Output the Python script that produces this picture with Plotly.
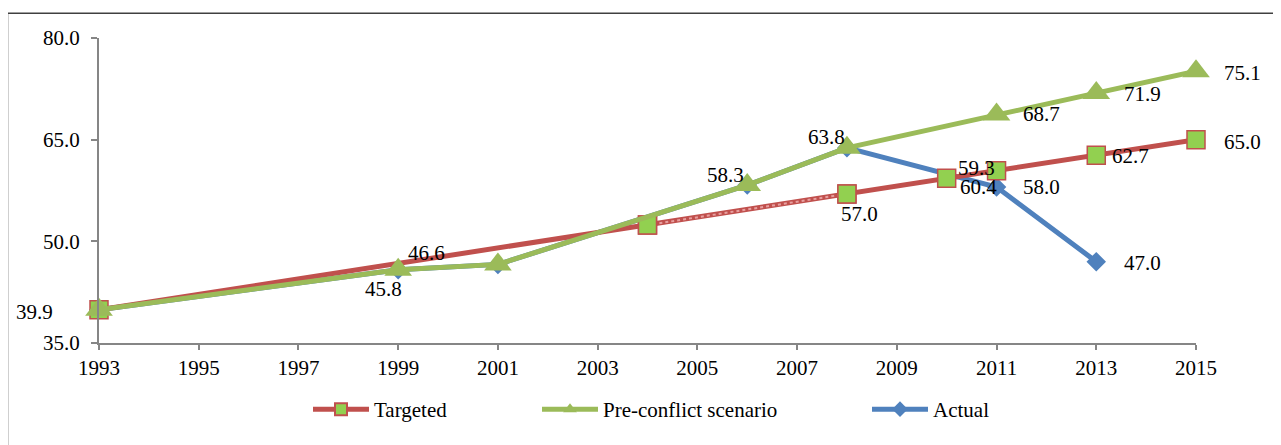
import plotly.graph_objects as go

# ---------------- data ----------------
targeted_years = [1993, 2004, 2008, 2010, 2011, 2013, 2015]
targeted_vals = [39.9, 52.4, 57.0, 59.3, 60.4, 62.7, 65.0]

preconf_years = [1993, 1999, 2001, 2006, 2008, 2011, 2013, 2015]
preconf_vals = [39.9, 45.8, 46.6, 58.3, 63.8, 68.7, 71.9, 75.1]

actual_years = [1993, 1999, 2001, 2006, 2008, 2011, 2013]
actual_vals = [39.9, 45.8, 46.6, 58.3, 63.8, 58.0, 47.0]

x_ticks = [1993, 1995, 1997, 1999, 2001, 2003, 2005, 2007, 2009, 2011, 2013, 2015]
y_ticks = [35.0, 50.0, 65.0, 80.0]

RED = "#C0504D"
GREEN = "#9BBB59"
BLUE = "#4F81BD"
SQFILL = "#92D050"
FONT = "Liberation Serif"
FS = 21

fig = go.Figure()

# Actual (drawn first, below others)
fig.add_trace(go.Scatter(
    x=actual_years, y=actual_vals, name="Actual", mode="lines+markers",
    line=dict(color=BLUE, width=5),
    marker=dict(symbol="diamond", size=15, color=BLUE),
    cliponaxis=False, legend="legend3"))

# Targeted
fig.add_trace(go.Scatter(
    x=targeted_years, y=targeted_vals, name="Targeted", mode="lines+markers",
    line=dict(color=RED, width=5),
    marker=dict(symbol="square", size=18, color=SQFILL, line=dict(color=RED, width=1.5)),
    cliponaxis=False, legend="legend"))
# hatched-looking segment overlay (2004-2008)
fig.add_trace(go.Scatter(
    x=targeted_years[1:3], y=targeted_vals[1:3], mode="lines",
    line=dict(color="#E8A0A0", width=2, dash="dot"),
    showlegend=False, hoverinfo="skip", cliponaxis=False))
fig.add_trace(go.Scatter(
    x=targeted_years[1:3], y=targeted_vals[1:3], mode="markers",
    marker=dict(symbol="square", size=18, color=SQFILL, line=dict(color=RED, width=1.5)),
    showlegend=False, hoverinfo="skip", cliponaxis=False))

# Pre-conflict scenario (on top)
fig.add_trace(go.Scatter(
    x=preconf_years, y=preconf_vals, name="Pre-conflict scenario", mode="lines+markers",
    line=dict(color=GREEN, width=5),
    marker=dict(symbol="triangle-up", size=24, color=GREEN),
    cliponaxis=False, legend="legend2"))

# ---------------- data labels ----------------
def lookup(years, vals, yr):
    return vals[years.index(yr)]

labels = [
    # (years, vals, year, dx, dy)  dx right, dy down in pixels
    (targeted_years, targeted_vals, 1993, -65, 2),
    (actual_years, actual_vals, 2001, -71, -11),
    (preconf_years, preconf_vals, 1999, -15, 19),
    (preconf_years, preconf_vals, 2006, -22, -10),
    (preconf_years, preconf_vals, 2008, -20, -11),
    (targeted_years, targeted_vals, 2008, 13, 20),
    (targeted_years, targeted_vals, 2010, 30, -10),
    (targeted_years, targeted_vals, 2011, -18, 16),
    (actual_years, actual_vals, 2011, 45, 0),
    (actual_years, actual_vals, 2013, 46, 1),
    (preconf_years, preconf_vals, 2011, 45, -1),
    (preconf_years, preconf_vals, 2013, 46, 1),
    (preconf_years, preconf_vals, 2015, 46, 2),
    (targeted_years, targeted_vals, 2013, 34, 1),
    (targeted_years, targeted_vals, 2015, 46, 2),
]
for yrs, vals, yr, dx, dy in labels:
    v = lookup(yrs, vals, yr)
    fig.add_annotation(
        x=yr, y=v, xref="x", yref="y", text=f"{v:.1f}", showarrow=False,
        xanchor="center", yanchor="middle", xshift=dx, yshift=-dy,
        font=dict(family=FONT, size=FS, color="black"))

# ---------------- layout ----------------
# page body has an 8px margin; figure is shrunk/shifted to compensate
OFF = 8
axis_col = "#868686"
leg_common = dict(orientation="h", yanchor="middle", xanchor="left", y=-0.218,
                  bgcolor="rgba(0,0,0,0)", font=dict(family=FONT, size=FS, color="black"),
                  itemwidth=56, itemsizing="constant", tracegroupgap=0)
fig.update_layout(
    width=1281 - OFF, height=445 - OFF,
    margin=dict(l=99 - OFF, r=85, t=38 - OFF, b=102),
    paper_bgcolor="white", plot_bgcolor="white",
    font=dict(family=FONT, size=FS, color="black"),
    xaxis=dict(range=[1993, 2015], tickvals=x_ticks, ticktext=[str(t) for t in x_ticks],
               showgrid=False, zeroline=False, showline=True, linecolor=axis_col, linewidth=2,
               ticks="outside", ticklen=5, tickwidth=2, tickcolor=axis_col,
               ticklabelstandoff=0, tickfont=dict(family=FONT, size=FS, color="black")),
    yaxis=dict(range=[35, 80], tickvals=y_ticks, ticktext=[f"{t:.1f}" for t in y_ticks],
               showgrid=False, zeroline=False, showline=True, linecolor=axis_col, linewidth=2,
               ticks="outside", ticklen=6, tickwidth=2, tickcolor=axis_col,
               ticklabelstandoff=7, tickfont=dict(family=FONT, size=FS, color="black")),
    legend=dict(x=(308 - 99) / 1097, **leg_common),
    legend2=dict(x=(537 - 99) / 1097, **leg_common),
    legend3=dict(x=(867 - 99) / 1097, **leg_common),
    showlegend=True,
)

# outer border (extends beyond right/bottom edges)
fig.add_shape(type="rect", xref="paper", yref="paper",
              x0=(7.5 - 99) / 1097, x1=1.2, y0=-0.6, y1=(343.3 - 13.3) / 305.3,
              line=dict(color="#404040", width=1.5), fillcolor="rgba(0,0,0,0)", layer="below")

fig.write_html("out.html")
